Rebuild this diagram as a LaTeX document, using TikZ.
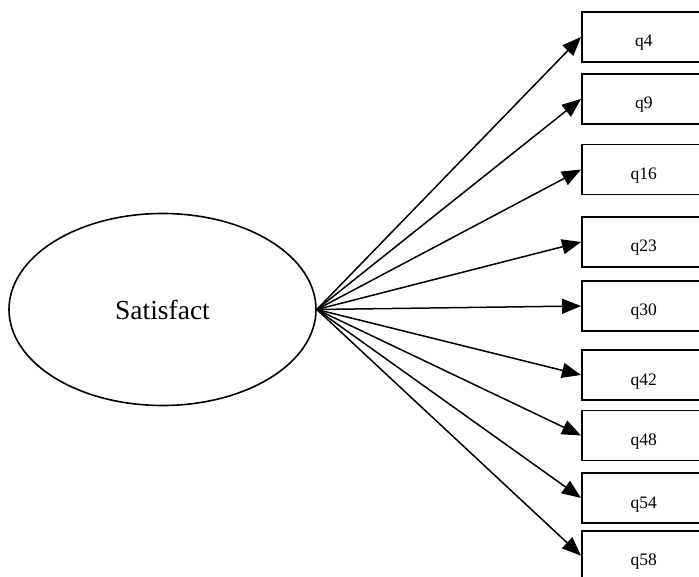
\documentclass[tikz,border=0pt]{standalone}
\usepackage{fontspec}
\setmainfont{Liberation Serif}
\usetikzlibrary{shapes.geometric,arrows.meta}
\begin{document}
\begin{tikzpicture}[x=1pt,y=-1pt,
  latent/.style={ellipse,draw,line width=1.6pt,minimum width=307pt,minimum height=192pt,
    inner sep=0pt,font=\fontsize{27.5}{30}\selectfont},
  indicator/.style={rectangle,draw,line width=1.6pt,minimum width=124pt,minimum height=50pt,
    inner sep=0pt,text height=20pt,text depth=0pt,font=\fontsize{17.5}{19}\selectfont},
  loading/.style={line width=1.5pt,-{Triangle[length=19pt,width=15pt]}}]
  \clip (0,0) rectangle (699,577);
  \useasboundingbox (0,0) rectangle (699,577);
  \node[latent] (sat) at (162.5,309.5) {Satisfact};
  \foreach \name/\yy in {q4/37,q9/99,q16/169.5,q23/242,q30/306,q42/375,q48/435.5,q54/498,q58/555.7}{
    \node[indicator,anchor=west] (\name) at (581,\yy) {\name};
    \draw[loading] (sat.east) -- (\name.west);
  }
\end{tikzpicture}
\end{document}
